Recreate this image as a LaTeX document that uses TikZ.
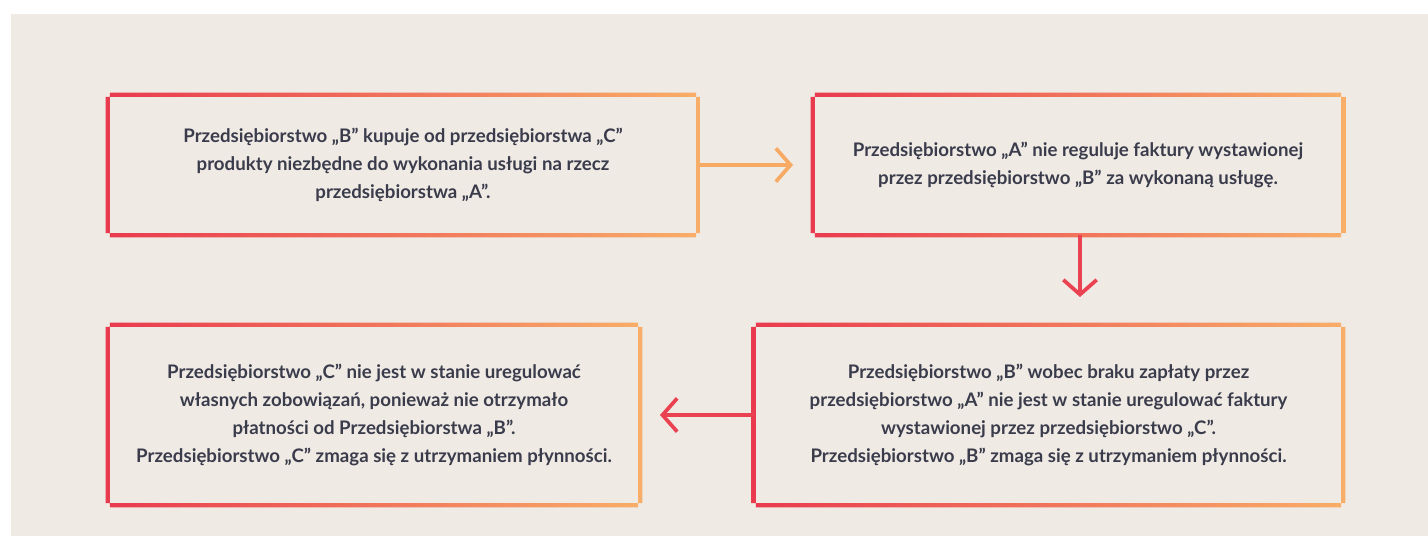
\documentclass[tikz,border=0pt]{standalone}
\usepackage{fontspec}
\setmainfont{Lato}
\usetikzlibrary{positioning,arrows.meta}

\definecolor{bgbeige}{RGB}{239,234,228}
\definecolor{boxred}{RGB}{233,58,78}
\definecolor{boxorange}{RGB}{248,174,104}
\definecolor{arrred}{RGB}{234,66,80}
\definecolor{arrorange}{RGB}{246,170,100}
\definecolor{txtgray}{RGB}{58,60,76}

\tikzset{
  stage/.style={align=center, text=txtgray, inner sep=0pt,
    font=\bfseries\fontsize{14}{21}\selectfont},
  flowarrow/.style={line width=2.8pt,
    -{Straight Barb[length=11pt,width=25pt,line width=2.8pt]}},
}

% gradient frame round a node
\newcommand{\gradframe}[1]{%
  \shade[left color=boxred, right color=boxorange, even odd rule]
    ([xshift=-1.6pt,yshift=1.6pt]#1.north west) rectangle ([xshift=1.6pt,yshift=-1.6pt]#1.south east)
    ([xshift=1.6pt,yshift=-1.6pt]#1.north west) rectangle ([xshift=-1.6pt,yshift=1.6pt]#1.south east);
}

\begin{document}
\begin{tikzpicture}[x=0.75pt,y=0.75pt,yscale=-1,xscale=1]
\useasboundingbox (0,0) rectangle (1428,536);
\fill[bgbeige] (11,14) rectangle (1428,536);

% boxes
\node[stage, minimum width=442.5pt, minimum height=105pt] (buys) at (403,165)
  {Przedsiębiorstwo „B” kupuje od przedsiębiorstwa „C”\\
   produkty niezbędne do wykonania usługi na rzecz\\
   przedsiębiorstwa „A”.};
\node[stage, minimum width=397.5pt, minimum height=105pt] (unpaid) at (1078,165)
  {Przedsiębiorstwo „A” nie reguluje faktury wystawionej\\
   przez przedsiębiorstwo „B” za wykonaną usługę.};
\node[stage, minimum width=441.75pt, minimum height=135pt] (bstuck) at (1048.5,415)
  {Przedsiębiorstwo „B” wobec braku zapłaty przez\\
   przedsiębiorstwo „A” nie jest w stanie uregulować faktury\\
   wystawionej przez przedsiębiorstwo „C”.\\
   Przedsiębiorstwo „B” zmaga się z utrzymaniem płynności.};
\node[stage, minimum width=399pt, minimum height=135pt] (cstuck) at (374,415)
  {Przedsiębiorstwo „C” nie jest w stanie uregulować\\
   własnych zobowiązań, ponieważ nie otrzymało\\
   płatności od Przedsiębiorstwa „B”.\\
   Przedsiębiorstwo „C” zmaga się z utrzymaniem płynności.};

\gradframe{buys}
\gradframe{unpaid}
\gradframe{bstuck}
\gradframe{cstuck}

% arrows
\coordinate (tipa) at (793,165);
\coordinate (tipb) at (1080,297);
\coordinate (tipc) at (660,415);
\draw[flowarrow, arrorange] (buys.east) -- (tipa);
\draw[flowarrow, arrred] (unpaid.south -| tipb) -- (tipb);
\draw[flowarrow, arrred] (bstuck.west) -- (tipc);

\end{tikzpicture}
\end{document}
